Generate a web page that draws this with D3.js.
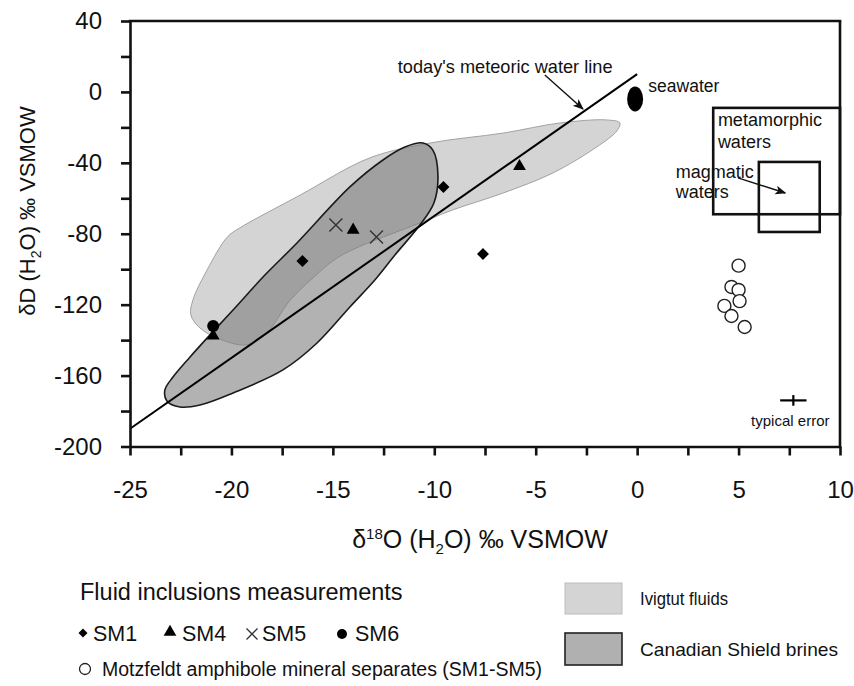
<!DOCTYPE html>
<html>
<head>
<meta charset="utf-8">
<script src="https://cdn.jsdelivr.net/npm/d3@7/dist/d3.min.js"></script>
<style>
  html, body { margin: 0; padding: 0; background: #fff; }
  svg { display: block; font-family: "Liberation Sans", Arial, Helvetica, sans-serif; }
</style>
</head>
<body>
<svg id="chart" width="854" height="686"></svg>
<script>
// ---------------- DATA ----------------
const xTickValues = [-25, -20, -15, -10, -5, 0, 5, 10];
const yTickValues = [-200, -160, -120, -80, -40, 0, 40];

const sm1X = [-16.5, -9.55, -7.6];
const sm1Y = [-95.4, -53.6, -91.4];
const sm4X = [-20.9, -14.0, -5.8];
const sm4Y = [-137.5, -77.9, -42.0];
const sm5X = [-14.85, -12.85];
const sm5Y = [-75.0, -81.8];
const sm6X = [-20.9];
const sm6Y = [-132.0];

const motzX = [5.0, 4.65, 5.0, 5.05, 4.3, 4.65, 5.3];
const motzY = [-98.0, -110.0, -111.7, -118.0, -120.7, -126.4, -132.6];

const ivigtutX = [-20.2, -19.6, -16.6, -13.2, -10.2, -6.6, -3.8, -1.5, -0.85, -1.0, -2.0, -4.15, -6.6, -9.1, -10.7, -12.5, -13.5, -14.8, -16.1, -17.1, -18.35, -19.3, -20.7, -21.55, -22.0, -21.9, -21.2];
const ivigtutY = [-81.8, -76.8, -58.1, -37.3, -28.8, -23.2, -17.5, -15.8, -17.5, -22.0, -31.1, -45.7, -57.0, -66.6, -73.9, -81.8, -86.3, -93.7, -106.1, -117.4, -137.1, -142.7, -138.8, -133.2, -125.8, -117.4, -100.4];

const canadianX = [-10.56, -10.07, -9.82, -10.02, -10.71, -11.94, -12.93, -14.16, -15.78, -17.46, -19.92, -21.55, -22.54, -23.18, -23.28, -22.88, -22.04, -21.06, -19.92, -18.35, -16.77, -14.16, -12.53, -11.45];
const canadianY = [-28.8, -32.8, -46.9, -62.7, -75.1, -92.0, -106.1, -121.3, -141.6, -156.8, -169.8, -176.6, -177.7, -174.3, -168.1, -160.8, -149.5, -137.1, -123.0, -103.3, -85.2, -53.6, -38.4, -31.1];

const mwlX = [-25, 0];
const mwlY = [-190, 10];

const seawaterX = [-0.1];
const seawaterY = [-4];

const metamorphicX = [3.75, 10];
const metamorphicY = [-69, -9];
const magmaticX = [6, 9];
const magmaticY = [-79, -39.5];

const errorX = [7.7];
const errorY = [-174];
const errorDX = [0.65];
const errorDY = [3];

// ---------------- LAYOUT ----------------
const svg = d3.select("#chart");
const x = d3.scaleLinear().domain([-25, 10]).range([130, 840]);
const y = d3.scaleLinear().domain([-200, 40]).range([446.5, 21]);

const defs = svg.append("defs");
defs.append("marker")
  .attr("id", "arrow")
  .attr("viewBox", "0 0 10 10")
  .attr("refX", 9).attr("refY", 5)
  .attr("markerWidth", 11).attr("markerHeight", 11)
  .attr("markerUnits", "userSpaceOnUse")
  .attr("orient", "auto")
  .append("path").attr("d", "M0,1 L10,5 L0,9 L2.5,5 Z").attr("fill", "#111");

// fields
const area = (xs, ys) => d3.line()
  .x(i => x(xs[i])).y(i => y(ys[i]))
  .curve(d3.curveCatmullRomClosed.alpha(0.5))(d3.range(xs.length));

svg.append("path")
  .attr("d", area(ivigtutX, ivigtutY))
  .attr("fill", "#d4d4d4")
  .attr("stroke", "#9a9a9a")
  .attr("stroke-width", 0.9);

svg.append("path")
  .attr("d", area(canadianX, canadianY))
  .attr("fill", "#7a7a7a")
  .attr("fill-opacity", 0.58)
  .attr("stroke", "#1a1a1a")
  .attr("stroke-width", 1.6);

// meteoric water line
svg.append("path")
  .attr("d", d3.line().x(i => x(mwlX[i])).y(i => y(mwlY[i]))(d3.range(mwlX.length)))
  .attr("stroke", "#000").attr("stroke-width", 2).attr("fill", "none");

// axes
const xAxis = d3.axisBottom(x)
  .tickValues(d3.range(-25, 10.01, 2.5))
  .tickSize(9).tickSizeOuter(0).tickPadding(25)
  .tickFormat(d => xTickValues.includes(d) ? String(d) : "");
const yAxis = d3.axisLeft(y)
  .tickValues(d3.range(-200, 40.01, 20))
  .tickSize(9).tickSizeOuter(0).tickPadding(19)
  .tickFormat(d => yTickValues.includes(d) ? String(d) : "");

const gx = svg.append("g").attr("transform", "translate(0,446.5)").call(xAxis);
const gy = svg.append("g").attr("transform", "translate(130,0)").call(yAxis);
[gx, gy].forEach(g => {
  g.select(".domain").attr("stroke", "#111").attr("stroke-width", 2.6);
  g.selectAll(".tick line").attr("stroke", "#111").attr("stroke-width", 2.6);
  g.selectAll(".tick text").attr("fill", "#111").style("font-size", "24px")
    .style("font-family", "'Liberation Sans', Arial, sans-serif");
});
// frame top/right
svg.append("line").attr("x1", x(-25) - 1.3).attr("x2", x(10) + 1.3).attr("y1", y(40)).attr("y2", y(40))
  .attr("stroke", "#111").attr("stroke-width", 2.6);
svg.append("line").attr("x1", x(10)).attr("x2", x(10)).attr("y1", y(40)).attr("y2", y(-200) + 1.3)
  .attr("stroke", "#111").attr("stroke-width", 2.6);

// boxes
[[metamorphicX, metamorphicY], [magmaticX, magmaticY]].forEach(([bx, by]) => {
  svg.append("rect")
    .attr("x", x(bx[0])).attr("y", y(by[1]))
    .attr("width", x(bx[1]) - x(bx[0])).attr("height", y(by[0]) - y(by[1]))
    .attr("fill", "none").attr("stroke", "#111").attr("stroke-width", 2.6);
});

// seawater
svg.selectAll(".sea").data(d3.range(seawaterX.length)).join("ellipse")
  .attr("cx", i => x(seawaterX[i])).attr("cy", i => y(seawaterY[i]))
  .attr("rx", 8).attr("ry", 12.5).attr("fill", "#000");

// markers
const diamond = d3.symbol().type(d3.symbolSquare).size(72);
const tri = d3.symbol().type(d3.symbolTriangle).size(72);

svg.selectAll(".sm1").data(d3.range(sm1X.length)).join("path")
  .attr("d", diamond)
  .attr("transform", i => `translate(${x(sm1X[i])},${y(sm1Y[i])}) rotate(45)`)
  .attr("fill", "#000");
svg.selectAll(".sm4").data(d3.range(sm4X.length)).join("path")
  .attr("d", tri)
  .attr("transform", i => `translate(${x(sm4X[i])},${y(sm4Y[i])})`)
  .attr("fill", "#000");
svg.selectAll(".sm5").data(d3.range(sm5X.length)).join("path")
  .attr("d", "M-6.5,-6.5L6.5,6.5M-6.5,6.5L6.5,-6.5")
  .attr("transform", i => `translate(${x(sm5X[i])},${y(sm5Y[i])})`)
  .attr("stroke", "#333").attr("stroke-width", 1.4).attr("fill", "none");
svg.selectAll(".sm6").data(d3.range(sm6X.length)).join("circle")
  .attr("cx", i => x(sm6X[i])).attr("cy", i => y(sm6Y[i])).attr("r", 6)
  .attr("fill", "#000");
svg.selectAll(".motz").data(d3.range(motzX.length)).join("circle")
  .attr("cx", i => x(motzX[i])).attr("cy", i => y(motzY[i])).attr("r", 6.5)
  .attr("fill", "#fff").attr("stroke", "#222").attr("stroke-width", 1.4);

// typical error cross
d3.range(errorX.length).forEach(i => {
  svg.append("line").attr("x1", x(errorX[i] - errorDX[i])).attr("x2", x(errorX[i] + errorDX[i]))
    .attr("y1", y(errorY[i])).attr("y2", y(errorY[i])).attr("stroke", "#000").attr("stroke-width", 2.2);
  svg.append("line").attr("x1", x(errorX[i])).attr("x2", x(errorX[i]))
    .attr("y1", y(errorY[i] - errorDY[i])).attr("y2", y(errorY[i] + errorDY[i])).attr("stroke", "#000").attr("stroke-width", 2.2);
});

// annotations
const ann = (tx, ty, str, size, anchor) => svg.append("text")
  .attr("x", tx).attr("y", ty).attr("text-anchor", anchor || "start")
  .style("font-size", size + "px").attr("fill", "#111").text(str);

ann(x(-11.8), y(10.8), "today's meteoric water line", 18.2);
svg.append("line").attr("x1", x(-4.55)).attr("y1", y(9.5)).attr("x2", x(-2.67)).attr("y2", y(-9.6))
  .attr("stroke", "#111").attr("stroke-width", 1.4).attr("marker-end", "url(#arrow)");
ann(x(0.55), y(-0.2), "seawater", 17.5);
ann(x(3.98), y(-19.5), "metamorphic", 18);
ann(x(3.98), y(-31.8), "waters", 18);
ann(x(1.9), y(-48.8), "magmatic", 18);
ann(x(1.9), y(-60), "waters", 18);
svg.append("line").attr("x1", x(4.97)).attr("y1", y(-48.5)).attr("x2", x(7.3)).attr("y2", y(-57))
  .attr("stroke", "#111").attr("stroke-width", 1.4).attr("marker-end", "url(#arrow)");
ann(x(7.55), y(-188.5), "typical error", 15, "middle");

// axis titles
const xt = svg.append("text").attr("x", 480).attr("y", 548).attr("text-anchor", "middle")
  .style("font-size", "25px").attr("fill", "#111");
xt.append("tspan").text("δ");
xt.append("tspan").attr("dy", -9).style("font-size", "15px").text("18");
xt.append("tspan").attr("dy", 9).text("O (H");
xt.append("tspan").attr("dy", 6).style("font-size", "15px").text("2");
xt.append("tspan").attr("dy", -6).text("O) ‰ VSMOW");

const yt = svg.append("text").attr("transform", "translate(35,211) rotate(-90)").attr("text-anchor", "middle")
  .style("font-size", "22px").attr("fill", "#111");
yt.append("tspan").text("δD (H");
yt.append("tspan").attr("dy", 6).style("font-size", "14px").text("2");
yt.append("tspan").attr("dy", -6).text("O) ‰ VSMOW");

// ---------------- LEGEND ----------------
const lg = svg.append("g");
lg.append("text").attr("x", 80).attr("y", 600).style("font-size", "23.5px").attr("fill", "#111")
  .text("Fluid inclusions measurements");

lg.append("path").attr("d", d3.symbol().type(d3.symbolSquare).size(40))
  .attr("transform", "translate(83,633) rotate(45)").attr("fill", "#000");
lg.append("text").attr("x", 93).attr("y", 641).style("font-size", "21.5px").attr("fill", "#111").text("SM1");
lg.append("path").attr("d", d3.symbol().type(d3.symbolTriangle).size(70))
  .attr("transform", "translate(170,632)").attr("fill", "#000");
lg.append("text").attr("x", 182).attr("y", 641).style("font-size", "21.5px").attr("fill", "#111").text("SM4");
lg.append("path").attr("d", "M-5.5,-5.5L5.5,5.5M-5.5,5.5L5.5,-5.5")
  .attr("transform", "translate(252,634)").attr("stroke", "#333").attr("stroke-width", 1.3);
lg.append("text").attr("x", 262).attr("y", 641).style("font-size", "21.5px").attr("fill", "#111").text("SM5");
lg.append("circle").attr("cx", 342).attr("cy", 634).attr("r", 5).attr("fill", "#000");
lg.append("text").attr("x", 355).attr("y", 641).style("font-size", "21.5px").attr("fill", "#111").text("SM6");

lg.append("circle").attr("cx", 85).attr("cy", 669).attr("r", 5.5).attr("fill", "#fff")
  .attr("stroke", "#222").attr("stroke-width", 1.3);
lg.append("text").attr("x", 102).attr("y", 676).style("font-size", "19.5px").attr("fill", "#111")
  .text("Motzfeldt amphibole mineral separates (SM1-SM5)");

lg.append("rect").attr("x", 565).attr("y", 583).attr("width", 57).attr("height", 31)
  .attr("fill", "#d4d4d4").attr("stroke", "#bdbdbd").attr("stroke-width", 1);
lg.append("text").attr("x", 640).attr("y", 605).style("font-size", "19px").attr("fill", "#111")
  .attr("textLength", 88).attr("lengthAdjust", "spacingAndGlyphs").text("Ivigtut fluids");
lg.append("rect").attr("x", 565).attr("y", 633).attr("width", 57).attr("height", 32)
  .attr("fill", "#b0b0b0").attr("stroke", "#222").attr("stroke-width", 1.6);
lg.append("text").attr("x", 640).attr("y", 656).style("font-size", "19px").attr("fill", "#111")
  .attr("textLength", 198).attr("lengthAdjust", "spacingAndGlyphs").text("Canadian Shield brines");
</script>
</body>
</html>
